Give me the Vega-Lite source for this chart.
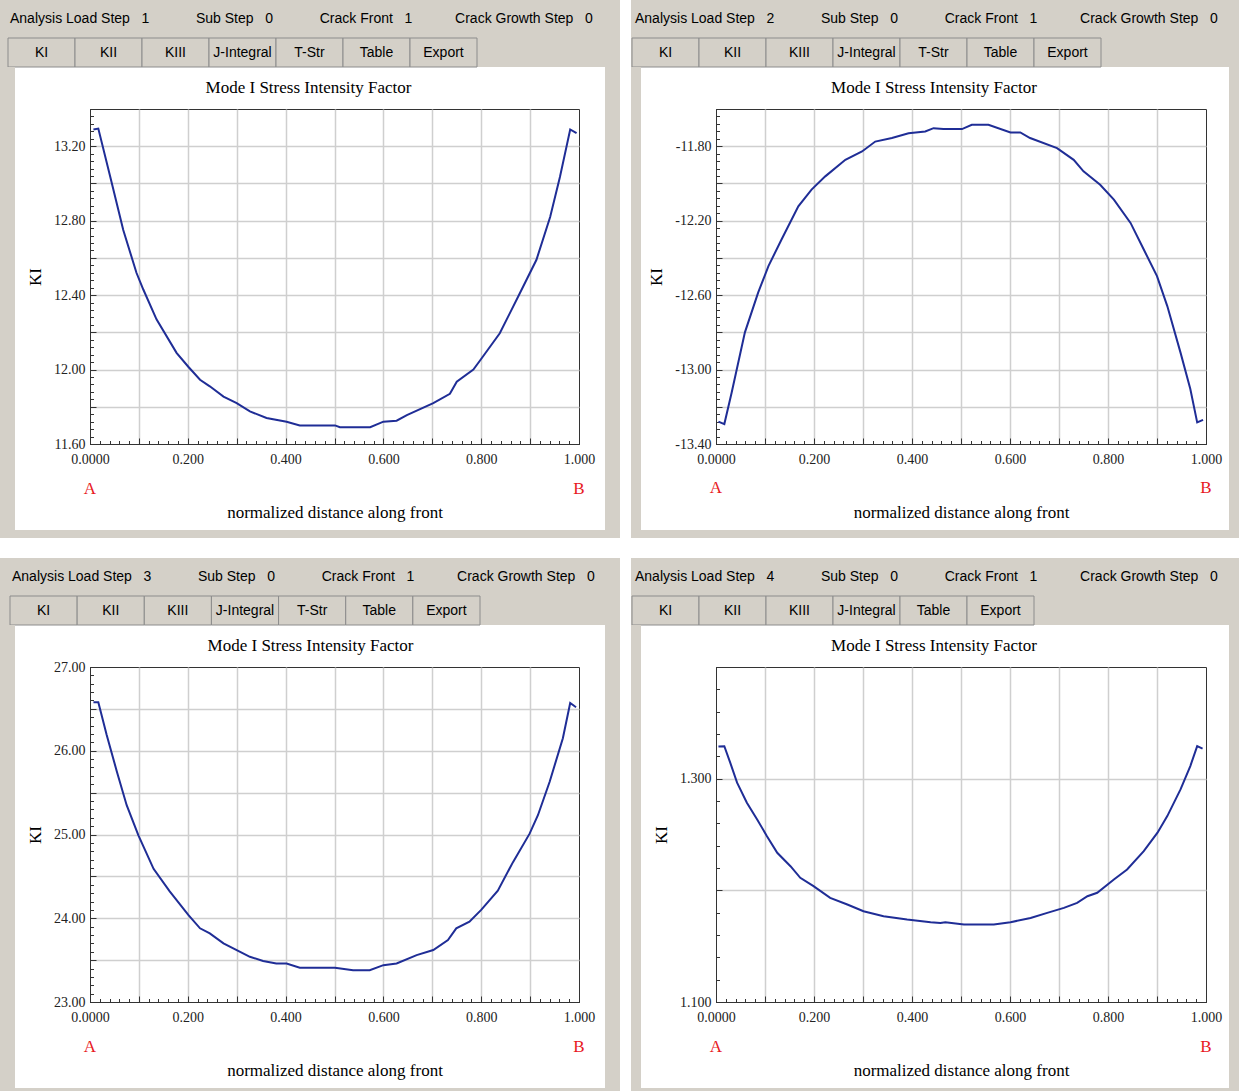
{
"$schema":"https://vega.github.io/schema/vega-lite/v6.json",
"background":"#ffffff",
"padding":0,
"data":{"values":[]},
"datasets":{
"p1":[{"s":0.007,"k":13.29},{"s":0.017,"k":13.295},{"s":0.041,"k":13.04},{"s":0.068,"k":12.75},{"s":0.095,"k":12.52},{"s":0.109,"k":12.43},{"s":0.136,"k":12.27},{"s":0.177,"k":12.09},{"s":0.201,"k":12.015},{"s":0.225,"k":11.945},{"s":0.245,"k":11.91},{"s":0.273,"k":11.855},{"s":0.3,"k":11.82},{"s":0.327,"k":11.775},{"s":0.361,"k":11.74},{"s":0.402,"k":11.72},{"s":0.429,"k":11.7},{"s":0.501,"k":11.7},{"s":0.511,"k":11.69},{"s":0.573,"k":11.69},{"s":0.6,"k":11.72},{"s":0.627,"k":11.725},{"s":0.648,"k":11.755},{"s":0.702,"k":11.82},{"s":0.736,"k":11.87},{"s":0.75,"k":11.935},{"s":0.784,"k":12.0},{"s":0.798,"k":12.05},{"s":0.838,"k":12.195},{"s":0.879,"k":12.41},{"s":0.913,"k":12.59},{"s":0.941,"k":12.82},{"s":0.961,"k":13.035},{"s":0.982,"k":13.29},{"s":0.995,"k":13.27}],
"p2":[{"s":0.005,"k":-13.28},{"s":0.017,"k":-13.293},{"s":0.032,"k":-13.123},{"s":0.059,"k":-12.8},{"s":0.086,"k":-12.587},{"s":0.107,"k":-12.444},{"s":0.134,"k":-12.3},{"s":0.168,"k":-12.123},{"s":0.195,"k":-12.033},{"s":0.223,"k":-11.962},{"s":0.264,"k":-11.873},{"s":0.298,"k":-11.828},{"s":0.325,"k":-11.775},{"s":0.359,"k":-11.756},{"s":0.393,"k":-11.73},{"s":0.427,"k":-11.721},{"s":0.444,"k":-11.703},{"s":0.464,"k":-11.708},{"s":0.502,"k":-11.708},{"s":0.522,"k":-11.685},{"s":0.556,"k":-11.685},{"s":0.601,"k":-11.726},{"s":0.621,"k":-11.726},{"s":0.641,"k":-11.756},{"s":0.696,"k":-11.81},{"s":0.73,"k":-11.873},{"s":0.75,"k":-11.935},{"s":0.784,"k":-12.007},{"s":0.812,"k":-12.087},{"s":0.846,"k":-12.212},{"s":0.873,"k":-12.355},{"s":0.9,"k":-12.498},{"s":0.921,"k":-12.659},{"s":0.948,"k":-12.909},{"s":0.968,"k":-13.105},{"s":0.982,"k":-13.284},{"s":0.994,"k":-13.27}],
"p3":[{"s":0.007,"k":26.58},{"s":0.017,"k":26.58},{"s":0.034,"k":26.19},{"s":0.055,"k":25.75},{"s":0.075,"k":25.35},{"s":0.099,"k":24.99},{"s":0.13,"k":24.59},{"s":0.163,"k":24.32},{"s":0.201,"k":24.04},{"s":0.225,"k":23.88},{"s":0.245,"k":23.82},{"s":0.273,"k":23.7},{"s":0.3,"k":23.62},{"s":0.327,"k":23.54},{"s":0.354,"k":23.49},{"s":0.381,"k":23.46},{"s":0.402,"k":23.46},{"s":0.429,"k":23.41},{"s":0.501,"k":23.41},{"s":0.538,"k":23.38},{"s":0.572,"k":23.38},{"s":0.6,"k":23.44},{"s":0.627,"k":23.46},{"s":0.668,"k":23.56},{"s":0.702,"k":23.62},{"s":0.732,"k":23.74},{"s":0.749,"k":23.88},{"s":0.776,"k":23.96},{"s":0.8,"k":24.1},{"s":0.834,"k":24.33},{"s":0.865,"k":24.67},{"s":0.899,"k":25.01},{"s":0.916,"k":25.23},{"s":0.94,"k":25.63},{"s":0.967,"k":26.15},{"s":0.982,"k":26.57},{"s":0.994,"k":26.52}],
"p4":[{"s":0.005,"k":1.3287},{"s":0.017,"k":1.329},{"s":0.029,"k":1.3143},{"s":0.043,"k":1.2964},{"s":0.063,"k":1.2785},{"s":0.084,"k":1.2635},{"s":0.104,"k":1.2485},{"s":0.125,"k":1.2336},{"s":0.152,"k":1.2216},{"s":0.172,"k":1.2112},{"s":0.199,"k":1.2037},{"s":0.233,"k":1.1933},{"s":0.268,"k":1.1873},{"s":0.301,"k":1.1813},{"s":0.342,"k":1.1768},{"s":0.39,"k":1.1738},{"s":0.438,"k":1.1714},{"s":0.458,"k":1.1708},{"s":0.468,"k":1.1714},{"s":0.506,"k":1.1693},{"s":0.567,"k":1.1693},{"s":0.601,"k":1.1714},{"s":0.642,"k":1.1753},{"s":0.676,"k":1.1798},{"s":0.71,"k":1.1843},{"s":0.737,"k":1.1888},{"s":0.758,"k":1.1947},{"s":0.778,"k":1.1978},{"s":0.812,"k":1.2097},{"s":0.839,"k":1.2187},{"s":0.873,"k":1.2351},{"s":0.901,"k":1.2516},{"s":0.921,"k":1.2665},{"s":0.948,"k":1.2904},{"s":0.968,"k":1.3113},{"s":0.982,"k":1.3292},{"s":0.993,"k":1.3269}],
"tabs7":[{"tab":"KI"},{"tab":"KII"},{"tab":"KIII"},{"tab":"J-Integral"},{"tab":"T-Str"},{"tab":"Table"},{"tab":"Export"}],
"tabs6":[{"tab":"KI"},{"tab":"KII"},{"tab":"KIII"},{"tab":"J-Integral"},{"tab":"Table"},{"tab":"Export"}],
"ends":[{"s":0,"end":"A"},{"s":1,"end":"B"}]
},
"columns":11,
"spacing":0,
"bounds":"flush",
"align":"each",
"concat":[
{"width":15,"height":38,"mark":"point","view":{"fill":"#d4d0c8"}},
{"width":75,"height":38,"mark":"point","view":{"fill":"#d4d0c8"}},
{"width":489,"height":38,"mark":"point","view":{"fill":"#d4d0c8"}},
{"width":26,"height":38,"mark":"point","view":{"fill":"#d4d0c8"}},
{"width":15,"height":38,"mark":"point","view":{"fill":"#d4d0c8"}},
{"width":1,"height":1,"mark":"point"},
{"width":10,"height":38,"mark":"point","view":{"fill":"#d4d0c8"}},
{"width":75,"height":38,"mark":"point","view":{"fill":"#d4d0c8"}},
{"width":490,"height":38,"mark":"point","view":{"fill":"#d4d0c8"}},
{"width":23,"height":38,"mark":"point","view":{"fill":"#d4d0c8"}},
{"width":10,"height":38,"mark":"point","view":{"fill":"#d4d0c8"}},

{"width":15,"height":29,"mark":"point","view":{"fill":"#d4d0c8"},"title":{"text":"Analysis Load Step\u00a0\u00a0\u00a01\u00a0\u00a0\u00a0\u00a0\u00a0\u00a0\u00a0\u00a0\u00a0\u00a0\u00a0\u00a0Sub Step\u00a0\u00a0\u00a00\u00a0\u00a0\u00a0\u00a0\u00a0\u00a0\u00a0\u00a0\u00a0\u00a0\u00a0\u00a0Crack Front\u00a0\u00a0\u00a01\u00a0\u00a0\u00a0\u00a0\u00a0\u00a0\u00a0\u00a0\u00a0\u00a0\u00a0Crack Growth Step\u00a0\u00a0\u00a00","anchor":"start","frame":"group","font":"Liberation Sans","fontSize":14,"fontWeight":"normal","color":"#000000","baseline":"alphabetic","offset":1,"dx":10}},
{"width":75,"height":29,"mark":"point","view":{"fill":"#d4d0c8"}},
{"width":489,"height":29,"view":{"fill":"#d4d0c8"},"data":{"name":"tabs7"},"encoding":{"x":{"field":"tab","type":"nominal","sort":null,"scale":{"range":[-82,387],"paddingInner":0,"paddingOuter":0},"axis":null}},"layer":[{"mark":{"type":"rect","fill":"#d4d0c8","stroke":"#8c8c8c","strokeWidth":1}},{"mark":{"type":"text","font":"Liberation Sans","fontSize":14,"color":"#000000"},"encoding":{"text":{"field":"tab","type":"nominal"}}}]},
{"width":26,"height":29,"mark":"point","view":{"fill":"#d4d0c8"}},
{"width":15,"height":29,"mark":"point","view":{"fill":"#d4d0c8"}},
{"width":1,"height":1,"mark":"point"},
{"width":10,"height":29,"mark":"point","view":{"fill":"#d4d0c8"},"title":{"text":"Analysis Load Step\u00a0\u00a0\u00a02\u00a0\u00a0\u00a0\u00a0\u00a0\u00a0\u00a0\u00a0\u00a0\u00a0\u00a0\u00a0Sub Step\u00a0\u00a0\u00a00\u00a0\u00a0\u00a0\u00a0\u00a0\u00a0\u00a0\u00a0\u00a0\u00a0\u00a0\u00a0Crack Front\u00a0\u00a0\u00a01\u00a0\u00a0\u00a0\u00a0\u00a0\u00a0\u00a0\u00a0\u00a0\u00a0\u00a0Crack Growth Step\u00a0\u00a0\u00a00","anchor":"start","frame":"group","font":"Liberation Sans","fontSize":14,"fontWeight":"normal","color":"#000000","baseline":"alphabetic","offset":1,"dx":4}},
{"width":75,"height":29,"mark":"point","view":{"fill":"#d4d0c8"}},
{"width":490,"height":29,"view":{"fill":"#d4d0c8"},"data":{"name":"tabs7"},"encoding":{"x":{"field":"tab","type":"nominal","sort":null,"scale":{"range":[-84,385],"paddingInner":0,"paddingOuter":0},"axis":null}},"layer":[{"mark":{"type":"rect","fill":"#d4d0c8","stroke":"#8c8c8c","strokeWidth":1}},{"mark":{"type":"text","font":"Liberation Sans","fontSize":14,"color":"#000000"},"encoding":{"text":{"field":"tab","type":"nominal"}}}]},
{"width":23,"height":29,"mark":"point","view":{"fill":"#d4d0c8"}},
{"width":10,"height":29,"mark":"point","view":{"fill":"#d4d0c8"}},

{"width":15,"height":42,"mark":"point","view":{"fill":"#d4d0c8"}},
{"width":1,"height":1,"mark":"point"},
{"width":1,"height":1,"mark":"point"},
{"width":1,"height":1,"mark":"point"},
{"width":15,"height":42,"mark":"point","view":{"fill":"#d4d0c8"}},
{"width":1,"height":1,"mark":"point"},
{"width":10,"height":42,"mark":"point","view":{"fill":"#d4d0c8"}},
{"width":1,"height":1,"mark":"point"},
{"width":1,"height":1,"mark":"point"},
{"width":1,"height":1,"mark":"point"},
{"width":10,"height":42,"mark":"point","view":{"fill":"#d4d0c8"}},

{"width":15,"height":335,"mark":"point","view":{"fill":"#d4d0c8"}},
{"width":1,"height":1,"mark":"point"},
{"width":489,"height":335,"view":{"stroke":"#333333","strokeWidth":1},
 "title":{"text":"Mode I Stress Intensity Factor","frame":"group","baseline":"alphabetic","offset":-8,"dx":-26},
 "resolve":{"axis":{"x":"independent","y":"independent"}},
 "layer":[
  {"data":{"name":"p1"},"mark":{"type":"line","color":"#1f2d96","strokeWidth":2},
   "encoding":{
    "x":{"field":"s","type":"quantitative","scale":{"domain":[0,1],"nice":false,"zero":false},"axis":{"orient":"bottom","values":[0,0.02,0.04,0.06,0.08,0.1,0.12,0.14,0.16,0.18,0.2,0.22,0.24,0.26,0.28,0.3,0.32,0.34,0.36,0.38,0.4,0.42,0.44,0.46,0.48,0.5,0.52,0.54,0.56,0.58,0.6,0.62,0.64,0.66,0.68,0.7,0.72,0.74,0.76,0.78,0.8,0.82,0.84,0.86,0.88,0.9,0.92,0.94,0.96,0.98,1],"ticks":true,"tickSize":-3.5,"labels":false,"grid":false,"domain":false,"title":null}},
    "y":{"field":"k","type":"quantitative","scale":{"domain":[11.6,13.4],"nice":false,"zero":false},"axis":{"orient":"left","values":[11.6,11.64,11.68,11.72,11.76,11.8,11.84,11.88,11.92,11.96,12,12.04,12.08,12.12,12.16,12.2,12.24,12.28,12.32,12.36,12.4,12.44,12.48,12.52,12.56,12.6,12.64,12.68,12.72,12.76,12.8,12.84,12.88,12.92,12.96,13,13.04,13.08,13.12,13.16,13.2,13.24,13.28,13.32,13.36,13.4],"ticks":true,"tickSize":-3.5,"labels":false,"grid":false,"domain":false,"title":null}}}},
  {"data":{"name":"ends"},"mark":{"type":"text","color":"#e8191e","font":"Liberation Serif","fontSize":17,"dy":45,"baseline":"middle"},
   "encoding":{
    "x":{"field":"s","type":"quantitative","axis":{"orient":"bottom","values":[0,0.1,0.2,0.3,0.4,0.5,0.6,0.7,0.8,0.9,1],"grid":true,"gridOpacity":{"condition":{"test":"datum.value < 0.001 || datum.value > 0.999","value":0},"value":1},"ticks":true,"domain":true,"tickSize":-6,"labelPadding":14,"labelExpr":"abs(datum.value*5-round(datum.value*5))<0.001 ? (datum.value==0 ? '0.0000' : format(datum.value,'.3f')) : ''","title":"normalized distance along front","titlePadding":38}},
    "y":{"datum":11.6,"axis":{"orient":"left","values":[11.6,11.8,12,12.2,12.4,12.6,12.8,13,13.2,13.4],"grid":true,"gridOpacity":{"condition":{"test":"datum.value < 11.61 || datum.value > 13.39","value":0},"value":1},"ticks":true,"domain":true,"tickSize":-6,"labelPadding":11,"labelExpr":"abs((datum.value-11.6)*2.5-round((datum.value-11.6)*2.5))<0.01 ? format(datum.value,'.2f') : ''","title":"KI","titlePadding":9}},
    "text":{"field":"end","type":"nominal"}}}
 ]},
{"width":1,"height":1,"mark":"point"},
{"width":15,"height":335,"mark":"point","view":{"fill":"#d4d0c8"}},
{"width":1,"height":1,"mark":"point"},
{"width":10,"height":335,"mark":"point","view":{"fill":"#d4d0c8"}},
{"width":1,"height":1,"mark":"point"},
{"width":490,"height":335,"view":{"stroke":"#333333","strokeWidth":1},
 "title":{"text":"Mode I Stress Intensity Factor","frame":"group","baseline":"alphabetic","offset":-8,"dx":-27},
 "resolve":{"axis":{"x":"independent","y":"independent"}},
 "layer":[
  {"data":{"name":"p2"},"mark":{"type":"line","color":"#1f2d96","strokeWidth":2},
   "encoding":{
    "x":{"field":"s","type":"quantitative","scale":{"domain":[0,1],"nice":false,"zero":false},"axis":{"orient":"bottom","values":[0,0.02,0.04,0.06,0.08,0.1,0.12,0.14,0.16,0.18,0.2,0.22,0.24,0.26,0.28,0.3,0.32,0.34,0.36,0.38,0.4,0.42,0.44,0.46,0.48,0.5,0.52,0.54,0.56,0.58,0.6,0.62,0.64,0.66,0.68,0.7,0.72,0.74,0.76,0.78,0.8,0.82,0.84,0.86,0.88,0.9,0.92,0.94,0.96,0.98,1],"ticks":true,"tickSize":-3.5,"labels":false,"grid":false,"domain":false,"title":null}},
    "y":{"field":"k","type":"quantitative","scale":{"domain":[-13.4,-11.6],"nice":false,"zero":false},"axis":{"orient":"left","values":[-13.4,-13.36,-13.32,-13.28,-13.24,-13.2,-13.16,-13.12,-13.08,-13.04,-13,-12.96,-12.92,-12.88,-12.84,-12.8,-12.76,-12.72,-12.68,-12.64,-12.6,-12.56,-12.52,-12.48,-12.44,-12.4,-12.36,-12.32,-12.28,-12.24,-12.2,-12.16,-12.12,-12.08,-12.04,-12,-11.96,-11.92,-11.88,-11.84,-11.8,-11.76,-11.72,-11.68,-11.64,-11.6],"ticks":true,"tickSize":-3.5,"labels":false,"grid":false,"domain":false,"title":null}}}},
  {"data":{"name":"ends"},"mark":{"type":"text","color":"#e8191e","font":"Liberation Serif","fontSize":17,"dy":44,"baseline":"middle"},
   "encoding":{
    "x":{"field":"s","type":"quantitative","axis":{"orient":"bottom","values":[0,0.1,0.2,0.3,0.4,0.5,0.6,0.7,0.8,0.9,1],"grid":true,"gridOpacity":{"condition":{"test":"datum.value < 0.001 || datum.value > 0.999","value":0},"value":1},"ticks":true,"domain":true,"tickSize":-6,"labelPadding":14,"labelExpr":"abs(datum.value*5-round(datum.value*5))<0.001 ? (datum.value==0 ? '0.0000' : format(datum.value,'.3f')) : ''","title":"normalized distance along front","titlePadding":38}},
    "y":{"datum":-13.4,"axis":{"orient":"left","values":[-13.4,-13.2,-13,-12.8,-12.6,-12.4,-12.2,-12,-11.8,-11.6],"grid":true,"gridOpacity":{"condition":{"test":"datum.value < -13.39 || datum.value > -11.61","value":0},"value":1},"ticks":true,"domain":true,"tickSize":-6,"labelPadding":11,"labelExpr":"abs((datum.value+13.4)*2.5-round((datum.value+13.4)*2.5))<0.01 ? replace(format(datum.value,'.2f'),'\u2212','-') : ''","title":"KI","titlePadding":9}},
    "text":{"field":"end","type":"nominal"}}}
 ]},
{"width":1,"height":1,"mark":"point"},
{"width":10,"height":335,"mark":"point","view":{"fill":"#d4d0c8"}},

{"width":15,"height":86,"mark":"point","view":{"fill":"#d4d0c8"}},
{"width":1,"height":1,"mark":"point"},
{"width":1,"height":1,"mark":"point"},
{"width":1,"height":1,"mark":"point"},
{"width":15,"height":86,"mark":"point","view":{"fill":"#d4d0c8"}},
{"width":1,"height":1,"mark":"point"},
{"width":10,"height":86,"mark":"point","view":{"fill":"#d4d0c8"}},
{"width":1,"height":1,"mark":"point"},
{"width":1,"height":1,"mark":"point"},
{"width":1,"height":1,"mark":"point"},
{"width":10,"height":86,"mark":"point","view":{"fill":"#d4d0c8"}},

{"width":15,"height":8,"mark":"point","view":{"fill":"#d4d0c8"}},
{"width":75,"height":8,"mark":"point","view":{"fill":"#d4d0c8"}},
{"width":489,"height":8,"mark":"point","view":{"fill":"#d4d0c8"}},
{"width":26,"height":8,"mark":"point","view":{"fill":"#d4d0c8"}},
{"width":15,"height":8,"mark":"point","view":{"fill":"#d4d0c8"}},
{"width":1,"height":1,"mark":"point"},
{"width":10,"height":8,"mark":"point","view":{"fill":"#d4d0c8"}},
{"width":75,"height":8,"mark":"point","view":{"fill":"#d4d0c8"}},
{"width":490,"height":8,"mark":"point","view":{"fill":"#d4d0c8"}},
{"width":23,"height":8,"mark":"point","view":{"fill":"#d4d0c8"}},
{"width":10,"height":8,"mark":"point","view":{"fill":"#d4d0c8"}},

{"width":1,"height":1,"mark":"point"},
{"width":1,"height":1,"mark":"point"},
{"width":1,"height":1,"mark":"point"},
{"width":1,"height":1,"mark":"point"},
{"width":1,"height":1,"mark":"point"},
{"width":11,"height":20,"mark":"point"},
{"width":1,"height":1,"mark":"point"},
{"width":1,"height":1,"mark":"point"},
{"width":1,"height":1,"mark":"point"},
{"width":1,"height":1,"mark":"point"},
{"width":1,"height":1,"mark":"point"},

{"width":15,"height":38,"mark":"point","view":{"fill":"#d4d0c8"}},
{"width":75,"height":38,"mark":"point","view":{"fill":"#d4d0c8"}},
{"width":489,"height":38,"mark":"point","view":{"fill":"#d4d0c8"}},
{"width":26,"height":38,"mark":"point","view":{"fill":"#d4d0c8"}},
{"width":15,"height":38,"mark":"point","view":{"fill":"#d4d0c8"}},
{"width":1,"height":1,"mark":"point"},
{"width":10,"height":38,"mark":"point","view":{"fill":"#d4d0c8"}},
{"width":75,"height":38,"mark":"point","view":{"fill":"#d4d0c8"}},
{"width":490,"height":38,"mark":"point","view":{"fill":"#d4d0c8"}},
{"width":23,"height":38,"mark":"point","view":{"fill":"#d4d0c8"}},
{"width":10,"height":38,"mark":"point","view":{"fill":"#d4d0c8"}},

{"width":15,"height":29,"mark":"point","view":{"fill":"#d4d0c8"},"title":{"text":"Analysis Load Step\u00a0\u00a0\u00a03\u00a0\u00a0\u00a0\u00a0\u00a0\u00a0\u00a0\u00a0\u00a0\u00a0\u00a0\u00a0Sub Step\u00a0\u00a0\u00a00\u00a0\u00a0\u00a0\u00a0\u00a0\u00a0\u00a0\u00a0\u00a0\u00a0\u00a0\u00a0Crack Front\u00a0\u00a0\u00a01\u00a0\u00a0\u00a0\u00a0\u00a0\u00a0\u00a0\u00a0\u00a0\u00a0\u00a0Crack Growth Step\u00a0\u00a0\u00a00","anchor":"start","frame":"group","font":"Liberation Sans","fontSize":14,"fontWeight":"normal","color":"#000000","baseline":"alphabetic","offset":1,"dx":12}},
{"width":75,"height":29,"mark":"point","view":{"fill":"#d4d0c8"}},
{"width":489,"height":29,"view":{"fill":"#d4d0c8"},"data":{"name":"tabs7"},"encoding":{"x":{"field":"tab","type":"nominal","sort":null,"scale":{"range":[-80,390],"paddingInner":0,"paddingOuter":0},"axis":null}},"layer":[{"mark":{"type":"rect","fill":"#d4d0c8","stroke":"#8c8c8c","strokeWidth":1}},{"mark":{"type":"text","font":"Liberation Sans","fontSize":14,"color":"#000000"},"encoding":{"text":{"field":"tab","type":"nominal"}}}]},
{"width":26,"height":29,"mark":"point","view":{"fill":"#d4d0c8"}},
{"width":15,"height":29,"mark":"point","view":{"fill":"#d4d0c8"}},
{"width":1,"height":1,"mark":"point"},
{"width":10,"height":29,"mark":"point","view":{"fill":"#d4d0c8"},"title":{"text":"Analysis Load Step\u00a0\u00a0\u00a04\u00a0\u00a0\u00a0\u00a0\u00a0\u00a0\u00a0\u00a0\u00a0\u00a0\u00a0\u00a0Sub Step\u00a0\u00a0\u00a00\u00a0\u00a0\u00a0\u00a0\u00a0\u00a0\u00a0\u00a0\u00a0\u00a0\u00a0\u00a0Crack Front\u00a0\u00a0\u00a01\u00a0\u00a0\u00a0\u00a0\u00a0\u00a0\u00a0\u00a0\u00a0\u00a0\u00a0Crack Growth Step\u00a0\u00a0\u00a00","anchor":"start","frame":"group","font":"Liberation Sans","fontSize":14,"fontWeight":"normal","color":"#000000","baseline":"alphabetic","offset":1,"dx":4}},
{"width":75,"height":29,"mark":"point","view":{"fill":"#d4d0c8"}},
{"width":490,"height":29,"view":{"fill":"#d4d0c8"},"data":{"name":"tabs6"},"encoding":{"x":{"field":"tab","type":"nominal","sort":null,"scale":{"range":[-84,318],"paddingInner":0,"paddingOuter":0},"axis":null}},"layer":[{"mark":{"type":"rect","fill":"#d4d0c8","stroke":"#8c8c8c","strokeWidth":1}},{"mark":{"type":"text","font":"Liberation Sans","fontSize":14,"color":"#000000"},"encoding":{"text":{"field":"tab","type":"nominal"}}}]},
{"width":23,"height":29,"mark":"point","view":{"fill":"#d4d0c8"}},
{"width":10,"height":29,"mark":"point","view":{"fill":"#d4d0c8"}},

{"width":15,"height":42,"mark":"point","view":{"fill":"#d4d0c8"}},
{"width":1,"height":1,"mark":"point"},
{"width":1,"height":1,"mark":"point"},
{"width":1,"height":1,"mark":"point"},
{"width":15,"height":42,"mark":"point","view":{"fill":"#d4d0c8"}},
{"width":1,"height":1,"mark":"point"},
{"width":10,"height":42,"mark":"point","view":{"fill":"#d4d0c8"}},
{"width":1,"height":1,"mark":"point"},
{"width":1,"height":1,"mark":"point"},
{"width":1,"height":1,"mark":"point"},
{"width":10,"height":42,"mark":"point","view":{"fill":"#d4d0c8"}},

{"width":15,"height":335,"mark":"point","view":{"fill":"#d4d0c8"}},
{"width":1,"height":1,"mark":"point"},
{"width":489,"height":335,"view":{"stroke":"#333333","strokeWidth":1},
 "title":{"text":"Mode I Stress Intensity Factor","frame":"group","baseline":"alphabetic","offset":-8,"dx":-24},
 "resolve":{"axis":{"x":"independent","y":"independent"}},
 "layer":[
  {"data":{"name":"p3"},"mark":{"type":"line","color":"#1f2d96","strokeWidth":2},
   "encoding":{
    "x":{"field":"s","type":"quantitative","scale":{"domain":[0,1],"nice":false,"zero":false},"axis":{"orient":"bottom","values":[0,0.02,0.04,0.06,0.08,0.1,0.12,0.14,0.16,0.18,0.2,0.22,0.24,0.26,0.28,0.3,0.32,0.34,0.36,0.38,0.4,0.42,0.44,0.46,0.48,0.5,0.52,0.54,0.56,0.58,0.6,0.62,0.64,0.66,0.68,0.7,0.72,0.74,0.76,0.78,0.8,0.82,0.84,0.86,0.88,0.9,0.92,0.94,0.96,0.98,1],"ticks":true,"tickSize":-3.5,"labels":false,"grid":false,"domain":false,"title":null}},
    "y":{"field":"k","type":"quantitative","scale":{"domain":[23,27],"nice":false,"zero":false},"axis":{"orient":"left","values":[23,23.1,23.2,23.3,23.4,23.5,23.6,23.7,23.8,23.9,24,24.1,24.2,24.3,24.4,24.5,24.6,24.7,24.8,24.9,25,25.1,25.2,25.3,25.4,25.5,25.6,25.7,25.8,25.9,26,26.1,26.2,26.3,26.4,26.5,26.6,26.7,26.8,26.9,27],"ticks":true,"tickSize":-3.5,"labels":false,"grid":false,"domain":false,"title":null}}}},
  {"data":{"name":"ends"},"mark":{"type":"text","color":"#e8191e","font":"Liberation Serif","fontSize":17,"dy":45,"baseline":"middle"},
   "encoding":{
    "x":{"field":"s","type":"quantitative","axis":{"orient":"bottom","values":[0,0.1,0.2,0.3,0.4,0.5,0.6,0.7,0.8,0.9,1],"grid":true,"gridOpacity":{"condition":{"test":"datum.value < 0.001 || datum.value > 0.999","value":0},"value":1},"ticks":true,"domain":true,"tickSize":-6,"labelPadding":14,"labelExpr":"abs(datum.value*5-round(datum.value*5))<0.001 ? (datum.value==0 ? '0.0000' : format(datum.value,'.3f')) : ''","title":"normalized distance along front","titlePadding":38}},
    "y":{"datum":23,"axis":{"orient":"left","values":[23,23.5,24,24.5,25,25.5,26,26.5,27],"grid":true,"gridOpacity":{"condition":{"test":"datum.value < 23.01 || datum.value > 26.99","value":0},"value":1},"ticks":true,"domain":true,"tickSize":-6,"labelPadding":11,"labelExpr":"abs((datum.value-23)-round(datum.value-23))<0.01 ? format(datum.value,'.2f') : ''","title":"KI","titlePadding":9}},
    "text":{"field":"end","type":"nominal"}}}
 ]},
{"width":1,"height":1,"mark":"point"},
{"width":15,"height":335,"mark":"point","view":{"fill":"#d4d0c8"}},
{"width":1,"height":1,"mark":"point"},
{"width":10,"height":335,"mark":"point","view":{"fill":"#d4d0c8"}},
{"width":1,"height":1,"mark":"point"},
{"width":490,"height":335,"view":{"stroke":"#333333","strokeWidth":1},
 "title":{"text":"Mode I Stress Intensity Factor","frame":"group","baseline":"alphabetic","offset":-8,"dx":-27},
 "resolve":{"axis":{"x":"independent","y":"independent"}},
 "layer":[
  {"data":{"name":"p4"},"mark":{"type":"line","color":"#1f2d96","strokeWidth":2},
   "encoding":{
    "x":{"field":"s","type":"quantitative","scale":{"domain":[0,1],"nice":false,"zero":false},"axis":{"orient":"bottom","values":[0,0.02,0.04,0.06,0.08,0.1,0.12,0.14,0.16,0.18,0.2,0.22,0.24,0.26,0.28,0.3,0.32,0.34,0.36,0.38,0.4,0.42,0.44,0.46,0.48,0.5,0.52,0.54,0.56,0.58,0.6,0.62,0.64,0.66,0.68,0.7,0.72,0.74,0.76,0.78,0.8,0.82,0.84,0.86,0.88,0.9,0.92,0.94,0.96,0.98,1],"ticks":true,"tickSize":-3.5,"labels":false,"grid":false,"domain":false,"title":null}},
    "y":{"field":"k","type":"quantitative","scale":{"domain":[1.1,1.4],"nice":false,"zero":false},"axis":{"orient":"left","values":[1.1,1.12,1.14,1.16,1.18,1.2,1.22,1.24,1.26,1.28,1.3,1.32,1.34,1.36,1.38,1.4],"ticks":true,"tickSize":-3.5,"labels":false,"grid":false,"domain":false,"title":null}}}},
  {"data":{"name":"ends"},"mark":{"type":"text","color":"#e8191e","font":"Liberation Serif","fontSize":17,"dy":45,"baseline":"middle"},
   "encoding":{
    "x":{"field":"s","type":"quantitative","axis":{"orient":"bottom","values":[0,0.1,0.2,0.3,0.4,0.5,0.6,0.7,0.8,0.9,1],"grid":true,"gridOpacity":{"condition":{"test":"datum.value < 0.001 || datum.value > 0.999","value":0},"value":1},"ticks":true,"domain":true,"tickSize":-6,"labelPadding":14,"labelExpr":"abs(datum.value*5-round(datum.value*5))<0.001 ? (datum.value==0 ? '0.0000' : format(datum.value,'.3f')) : ''","title":"normalized distance along front","titlePadding":38}},
    "y":{"datum":1.1,"axis":{"orient":"left","values":[1.1,1.2,1.3,1.4],"grid":true,"gridOpacity":{"condition":{"test":"datum.value < 1.101 || datum.value > 1.399","value":0},"value":1},"ticks":true,"domain":true,"tickSize":-6,"labelPadding":11,"labelExpr":"abs((datum.value-1.1)*5-round((datum.value-1.1)*5))<0.01 ? format(datum.value,'.3f') : ''","title":"KI","titlePadding":9}},
    "text":{"field":"end","type":"nominal"}}}
 ]},
{"width":1,"height":1,"mark":"point"},
{"width":10,"height":335,"mark":"point","view":{"fill":"#d4d0c8"}},

{"width":15,"height":86,"mark":"point","view":{"fill":"#d4d0c8"}},
{"width":1,"height":1,"mark":"point"},
{"width":1,"height":1,"mark":"point"},
{"width":1,"height":1,"mark":"point"},
{"width":15,"height":86,"mark":"point","view":{"fill":"#d4d0c8"}},
{"width":1,"height":1,"mark":"point"},
{"width":10,"height":86,"mark":"point","view":{"fill":"#d4d0c8"}},
{"width":1,"height":1,"mark":"point"},
{"width":1,"height":1,"mark":"point"},
{"width":1,"height":1,"mark":"point"},
{"width":10,"height":86,"mark":"point","view":{"fill":"#d4d0c8"}},

{"width":15,"height":3,"mark":"point","view":{"fill":"#d4d0c8"}},
{"width":75,"height":3,"mark":"point","view":{"fill":"#d4d0c8"}},
{"width":489,"height":3,"mark":"point","view":{"fill":"#d4d0c8"}},
{"width":26,"height":3,"mark":"point","view":{"fill":"#d4d0c8"}},
{"width":15,"height":3,"mark":"point","view":{"fill":"#d4d0c8"}},
{"width":1,"height":1,"mark":"point"},
{"width":10,"height":3,"mark":"point","view":{"fill":"#d4d0c8"}},
{"width":75,"height":3,"mark":"point","view":{"fill":"#d4d0c8"}},
{"width":490,"height":3,"mark":"point","view":{"fill":"#d4d0c8"}},
{"width":23,"height":3,"mark":"point","view":{"fill":"#d4d0c8"}},
{"width":10,"height":3,"mark":"point","view":{"fill":"#d4d0c8"}}
],
"config":{
 "view":{"stroke":null},
 "title":{"font":"Liberation Serif","fontSize":17,"fontWeight":"normal","color":"#000000"},
 "axis":{"labelFont":"Liberation Serif","labelFontSize":14,"labelColor":"#222222","titleFont":"Liberation Serif","titleFontSize":17,"titleFontWeight":"normal","titleColor":"#000000","domainColor":"#333333","tickColor":"#333333","tickWidth":1,"tickOpacity":1,"gridColor":"#cfcfcf","gridWidth":1.5,"labelOverlap":false,"labelFlush":false,"labelBound":false}
}
}
